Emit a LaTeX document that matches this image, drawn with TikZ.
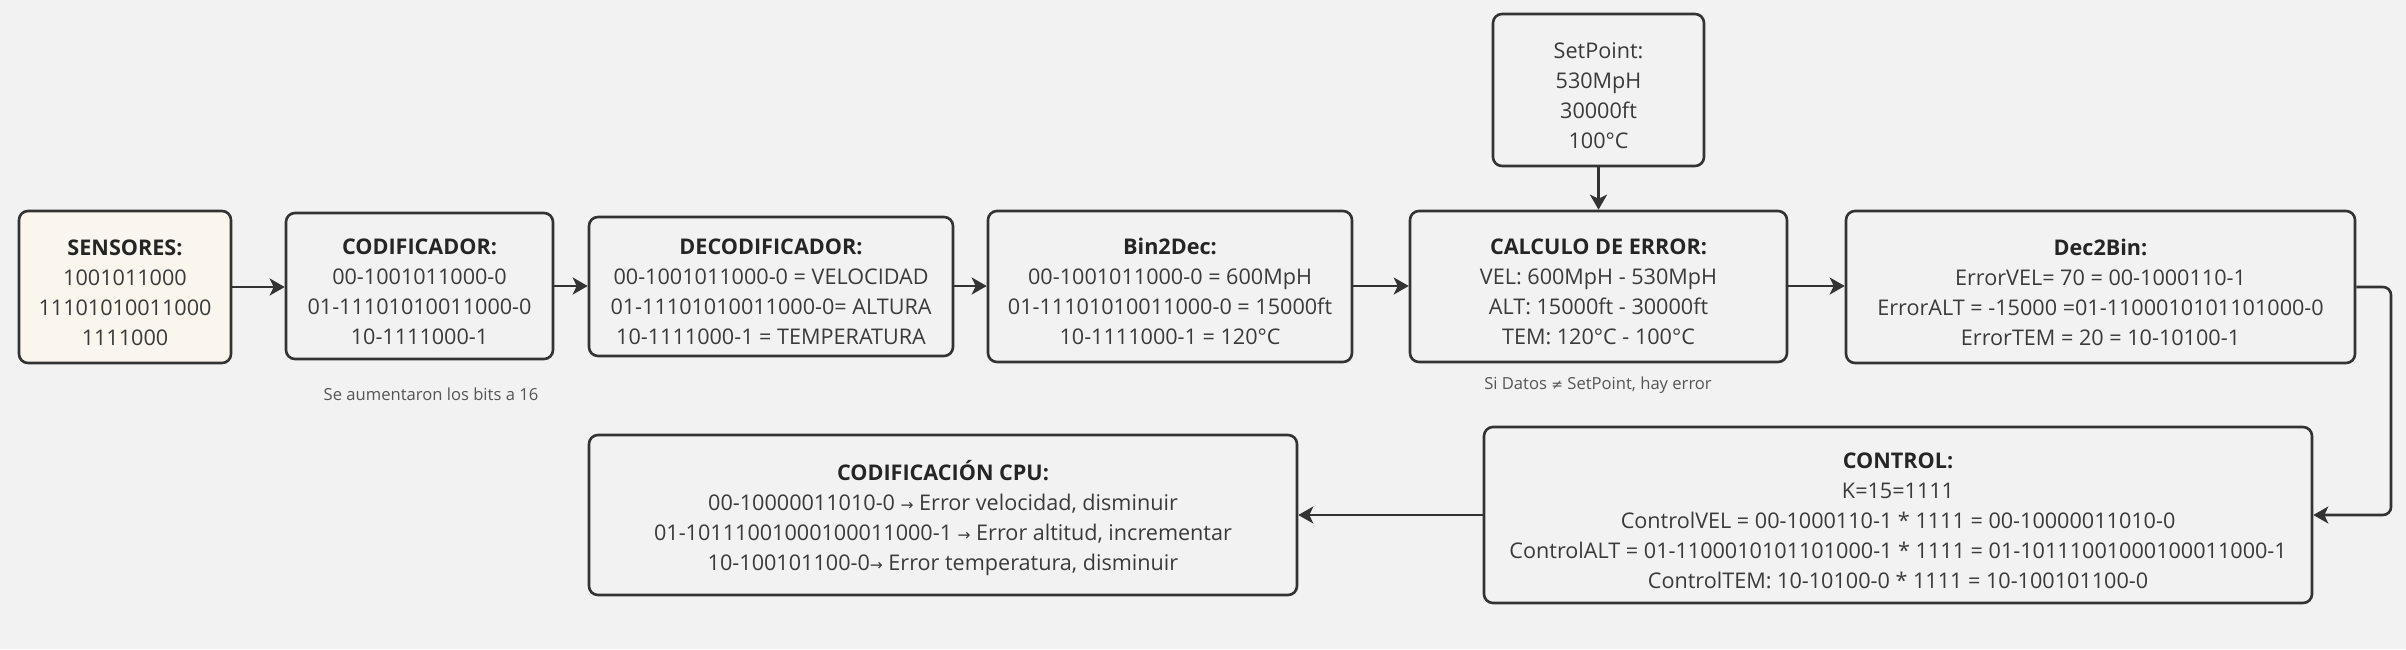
\documentclass[tikz,border=0pt]{standalone}
\usepackage{fontspec}
\setmainfont{Open Sans}
\newfontfamily\symf{DejaVu Sans}
\usetikzlibrary{arrows.meta}
\definecolor{bgc}{HTML}{F2F2F2}
\definecolor{linec}{HTML}{333333}
\definecolor{txtc}{HTML}{3A3A3A}
\definecolor{ttlc}{HTML}{252525}
\definecolor{creamc}{HTML}{FAF6EE}
\definecolor{notec}{HTML}{555555}
\newcommand{\arr}{{\symf\fontsize{15.5}{30}\selectfont →}}
\newcommand{\ttl}[1]{\rule{0pt}{27pt}{\bfseries\color{ttlc}#1}}
\begin{document}
\begin{tikzpicture}[x=1pt,y=-1pt,
  blk/.style={draw=linec, line width=2.6pt, rounded corners=9pt, fill=bgc,
    align=center, text=txtc, inner sep=0pt,
    font=\fontsize{21.6}{30}\selectfont},
  note/.style={text=notec, font=\fontsize{16.6}{20}\selectfont, inner sep=0pt},
  conn/.style={draw=linec, line width=2.6pt, rounded corners=8pt,
    -{Stealth[length=15pt,width=17pt,inset=4pt]}}]
\fill[bgc] (0,0) rectangle (2406,649);
\useasboundingbox (0,0) rectangle (2406,649);

\node[blk, fill=creamc, minimum width=212pt, minimum height=152pt] (sens) at (125,287)
  {\ttl{SENSORES:}\\1001011000\\11101010011000\\1111000};
\node[blk, minimum width=267pt, minimum height=146pt] (cod) at (419.5,286)
  {\ttl{CODIFICADOR:}\\00-1001011000-0\\01-11101010011000-0\\10-1111000-1};
\node[blk, minimum width=364pt, minimum height=139pt] (dec) at (771,286.5)
  {\ttl{DECODIFICADOR:}\\00-1001011000-0 = VELOCIDAD\\01-11101010011000-0= ALTURA\\10-1111000-1 = TEMPERATURA};
\node[blk, minimum width=364pt, minimum height=151pt] (b2d) at (1170,286.5)
  {\ttl{Bin2Dec:}\\00-1001011000-0 = 600MpH\\01-11101010011000-0 = 15000ft\\10-1111000-1 = 120°C};
\node[blk, minimum width=377pt, minimum height=151pt] (err) at (1598.5,286.5)
  {\ttl{CALCULO DE ERROR:}\\VEL: 600MpH - 530MpH\\ALT: 15000ft - 30000ft\\TEM: 120°C - 100°C};
\node[blk, minimum width=211pt, minimum height=152pt] (sp) at (1598.5,90)
  {\rule{0pt}{27pt}SetPoint:\\530MpH\\30000ft\\100°C};
\node[blk, minimum width=509pt, minimum height=152pt] (d2b) at (2100.5,287)
  {\ttl{Dec2Bin:}\\ErrorVEL= 70 = 00-1000110-1\\ErrorALT = -15000 =01-1100010101101000-0\\ErrorTEM = 20 = 10-10100-1};
\node[blk, minimum width=828pt, minimum height=176pt] (ctrl) at (1898,515)
  {\ttl{CONTROL:}\\K=15=1111\\ControlVEL = 00-1000110-1 * 1111 = 00-10000011010-0\\ControlALT = 01-1100010101101000-1 * 1111 = 01-10111001000100011000-1\\ControlTEM: 10-10100-0 * 1111 = 10-100101100-0};
\node[blk, minimum width=708pt, minimum height=160pt] (cpu) at (943,515)
  {\ttl{CODIFICACIÓN CPU:}\\00-10000011010-0 \arr{} Error velocidad, disminuir\\01-10111001000100011000-1 \arr{} Error altitud, incrementar\\10-100101100-0\arr{} Error temperatura, disminuir};

\node[note] (n1) at (431,394) {Se aumentaron los bits a 16};
\node[note] (n2) at (1598,385) {Si Datos {\symf\fontsize{14}{20}\selectfont ≠} SetPoint, hay error};

\coordinate (c1) at (2391,287);
\coordinate (c2) at (2391,515);
\draw[conn] (sens.east |- 0,287) -- (cod.west |- 0,287);
\draw[conn] (cod.east |- 0,286) -- (dec.west |- 0,286);
\draw[conn] (dec.east |- 0,286) -- (b2d.west |- 0,286);
\draw[conn] (b2d.east |- 0,286) -- (err.west |- 0,286);
\draw[conn] (err.east |- 0,286) -- (d2b.west |- 0,286);
\draw[conn] (sp.south) -- (err.north);
\draw[conn] (d2b.east) -- (c1) -- (c2) -- (ctrl.east);
\draw[conn] (ctrl.west) -- (cpu.east);
\end{tikzpicture}
\end{document}
